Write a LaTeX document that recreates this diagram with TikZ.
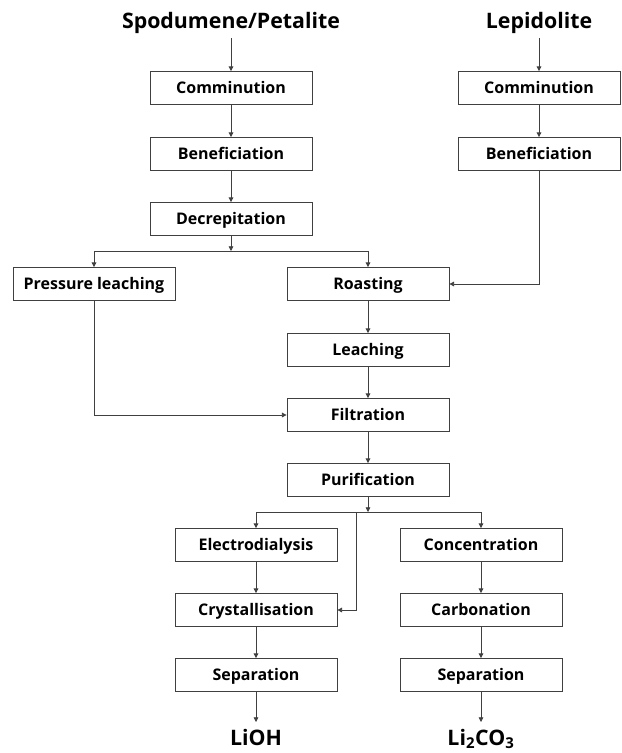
\documentclass[tikz,border=0pt]{standalone}
\usepackage{fontspec}
\setmainfont{Open Sans}
\usetikzlibrary{arrows.meta}
\begin{document}
\begin{tikzpicture}[x=0.75pt, y=-0.75pt,
  every node/.style={font=\bfseries},
  box/.style={rectangle, draw=black!75, line width=0.6pt, fill=white,
              minimum width=121.5pt, minimum height=24.75pt, inner sep=0pt,
              text height=8.6pt, text depth=0pt,
              font=\fontsize{12}{14}\selectfont\bfseries},
  ttl/.style={inner sep=0pt, anchor=base, font=\fontsize{16}{19}\selectfont\bfseries},
  arr/.style={-{Triangle[length=3.5pt,width=3.5pt]}, line width=0.6pt, black!75}
]
  \useasboundingbox (0,0) rectangle (621,753);
  \node[ttl] (spod) at (231,28) {Spodumene/Petalite};
  \node[ttl] (lepi) at (539,28) {Lepidolite};
  \node[box] (comA) at (231,88) {Comminution};
  \node[box] (benA) at (231,154) {Beneficiation};
  \node[box] (decr) at (231,219) {Decrepitation};
  \node[box] (comB) at (539,88) {Comminution};
  \node[box] (benB) at (539,154) {Beneficiation};
  \node[box] (pres) at (94,284) {Pressure leaching};
  \node[box] (roas) at (368,284) {Roasting};
  \node[box] (leac) at (368,350) {Leaching};
  \node[box] (filt) at (368,415) {Filtration};
  \node[box] (puri) at (368,480) {Purification};
  \node[box] (elec) at (256,545) {Electrodialysis};
  \node[box] (crys) at (256,610) {Crystallisation};
  \node[box] (sepA) at (256,675) {Separation};
  \node[box] (conc) at (481,545) {Concentration};
  \node[box] (carb) at (481,610) {Carbonation};
  \node[box] (sepB) at (481,675) {Separation};
  \node[ttl] (lioh) at (256,745) {LiOH};
  \node[ttl] (lico) at (481,745) {Li\textsubscript{2}CO\textsubscript{3}};
  \coordinate (splitA) at (231,251);
  \coordinate (splitB) at (368,512);
  \coordinate (splitC) at (356,512);

  \draw[arr] (spod.south |- 0,38) -- (comA.north);
  \draw[arr] (lepi.south |- 0,38) -- (comB.north);
  \draw[arr] (comA) -- (benA);
  \draw[arr] (benA) -- (decr);
  \draw[arr] (comB) -- (benB);
  \draw[arr] (decr) -- (splitA);
  \draw[arr] (splitA) -| (pres.north);
  \draw[arr] (splitA) -| (roas.north);
  \draw[arr] (benB.south) |- (roas.east);
  \draw[arr] (roas) -- (leac);
  \draw[arr] (leac) -- (filt);
  \draw[arr] (pres.south) |- (filt.west);
  \draw[arr] (filt) -- (puri);
  \draw[arr] (puri) -- (splitB);
  \draw[arr] (splitB) -| (elec.north);
  \draw[arr] (splitB) -| (conc.north);
  \draw[arr] (splitC) |- (crys.east);
  \draw[arr] (elec) -- (crys);
  \draw[arr] (crys) -- (sepA);
  \draw[arr] (conc) -- (carb);
  \draw[arr] (carb) -- (sepB);
  \draw[arr] (sepA.south) -- (sepA.south |- 0,722);
  \draw[arr] (sepB.south) -- (sepB.south |- 0,722);
\end{tikzpicture}
\end{document}
